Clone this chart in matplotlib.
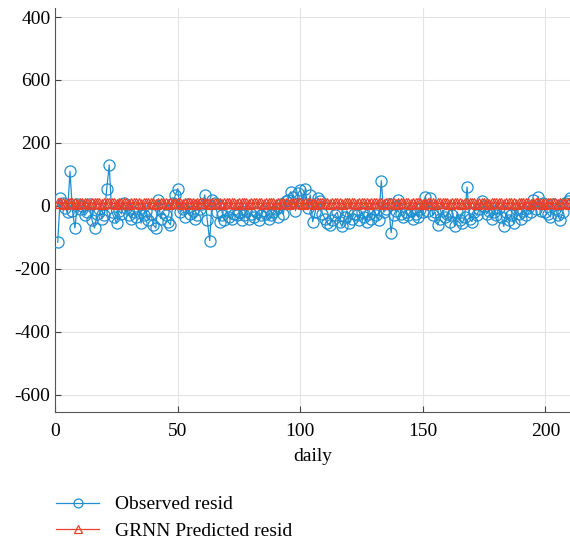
import numpy as np
import matplotlib.pyplot as plt

plt.rcParams['font.family'] = ['Liberation Serif', 'DejaVu Serif']

# residuals per day
days = np.arange(1, 211)
observed = [
    -115, 25, 10, -5, -20, 110, -15, -70, 5, -10,
    0, -30, -20, 5, -45, -70, -25, -10, -40, -30,
    55, 130, -20, -35, -55, -15, -25, 10, -5, -30,
    -40, -20, -35, -10, -55, -30, -15, -45, -25, -60,
    -70, 20, -40, -20, -30, -50, -60, 10, 35, 55,
    -20, -10, -35, 5, -25, -15, -40, -30, -10, 5,
    35, -45, -110, 20, 10, -20, -50, -30, -45, -15,
    -35, -40, -25, -30, -20, -45, -30, -15, -40, -25,
    -35, -20, -45, -30, -15, -25, -40, -30, -20, -10,
    -35, 5, -25, 15, 20, 45, 30, -15, 40, 50,
    10, 55, -5, 35, -50, -20, 25, 15, -25, -40,
    -55, -60, -45, -30, -20, -50, -65, -35, -15, -55,
    -40, -25, -30, -45, -20, -35, -50, -25, -40, -10,
    -30, -45, 80, -20, -10, 5, -85, -30, -15, 20,
    -25, -35, -20, -30, -15, -40, -25, -35, -10, -20,
    30, -15, 25, -30, -20, -60, -40, -15, -35, -25,
    -50, -30, -65, -20, -45, -55, -35, 60, -40, -50,
    -20, -30, -10, 15, 0, -25, -15, -40, -20, -30,
    -5, -35, -65, -20, -45, -30, -55, -10, -25, -40,
    -15, -30, -5, -20, 20, -10, 30, -15, 10, -20,
    -25, -35, 5, -10, -30, -45, -20, 10, 15, 25,
]
predicted = [
    8, 9, 8, 7, 8, 9, 8, 8, 7, 8,
    9, 8, 8, 7, 8, 8, 9, 8, 7, 8,
    8, 9, 8, 8, 7, 8, 9, 8, 8, 7,
    8, 8, 9, 8, 7, 8, 8, 9, 8, 8,
    7, 8, 9, 8, 8, 7, 8, 8, 9, 8,
    8, 7, 8, 9, 8, 8, 7, 8, 8, 9,
    8, 8, 7, 8, 9, 8, 8, 7, 8, 8,
    9, 8, 8, 7, 8, 9, 8, 8, 7, 8,
    8, 9, 8, 8, 7, 8, 9, 8, 8, 7,
    8, 8, 9, 8, 7, 8, 8, 9, 8, 8,
    7, 8, 9, 8, 8, 7, 8, 8, 9, 8,
    8, 7, 8, 9, 8, 8, 7, 8, 8, 9,
    8, 8, 7, 8, 9, 8, 8, 7, 8, 8,
    9, 8, 8, 7, 8, 9, 8, 8, 7, 8,
    8, 9, 8, 8, 7, 8, 9, 8, 8, 7,
    8, 8, 9, 8, 7, 8, 8, 9, 8, 8,
    7, 8, 9, 8, 8, 7, 8, 8, 9, 8,
    8, 7, 8, 9, 8, 8, 7, 8, 8, 9,
    8, 8, 7, 8, 9, 8, 8, 7, 8, 8,
    9, 8, 8, 7, 8, 9, 8, 8, 7, 8,
    8, 9, 8, 8, 7, 8, 9, 8, 8, 7,
]
ytick_vals = [-600, -400, -200, 0, 200, 400, 600]
ytick_labels = ['-600', '-400', '-200', '0', '200', '600', '400']
xtick_vals = [0, 50, 100, 150, 200]

fig = plt.figure(figsize=(5.7, 5.47), dpi=100)
ax = fig.add_axes([0.097, 0.247, 0.903, 0.738])

ax.plot(days, observed, '-o', color='#1f8fd0', lw=0.9, ms=8, mfc='none',
        mew=0.9, label='Observed resid', zorder=3)
ax.plot(days, predicted, '-^', color='#e8402a', lw=0.9, ms=6.5, mfc='none',
        mew=0.9, label='GRNN Predicted resid', zorder=4)

ax.set_xlim(0, 210)
ax.set_ylim(-654, 628)
ax.set_xticks(xtick_vals)
ax.set_yticks(ytick_vals)
ax.set_yticklabels(ytick_labels)
ax.tick_params(direction='in', labelsize=14, color='#444444', length=4)
ax.tick_params(axis='x', pad=8)
ax.grid(True, color='#e3e3e3', lw=0.8)
ax.set_axisbelow(True)
for s in ['top', 'right']:
    ax.spines[s].set_visible(False)
for s in ['left', 'bottom']:
    ax.spines[s].set_color('#555555')
ax.set_xlabel('daily', fontsize=14, labelpad=6)

fig.legend(loc='upper left', bbox_to_anchor=(0.085, 0.108), frameon=False,
           fontsize=14, handlelength=2.2, labelspacing=0.45, markerscale=0.8,
           borderaxespad=0)

fig.savefig('out.png', dpi=100)
